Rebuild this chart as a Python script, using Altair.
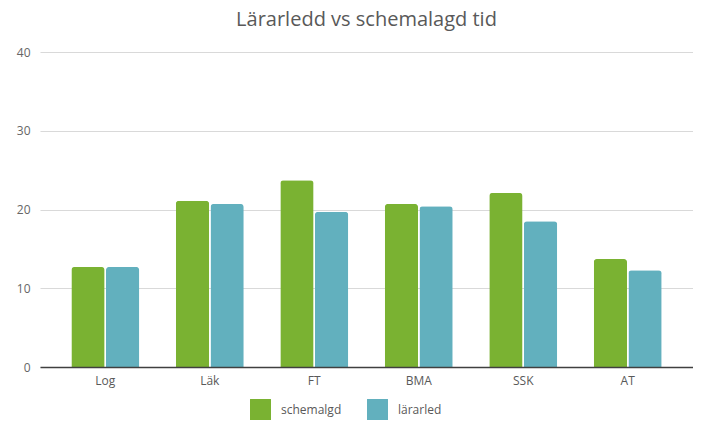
import altair as alt
import pandas as pd

categories = ["Log", "Läk", "FT", "BMA", "SSK", "AT"]
schemalgd = [12.7, 21.1, 23.7, 20.7, 22.1, 13.7]
lararled = [12.7, 20.7, 19.7, 20.4, 18.5, 12.3]
series = ["schemalgd", "lärarled"]
colors = ["#7AB232", "#62B0BE"]

rows = []
for c, a, b in zip(categories, schemalgd, lararled):
    rows.append({"kat": c, "serie": series[0], "v": a})
    rows.append({"kat": c, "serie": series[1], "v": b})
df = pd.DataFrame(rows)

font = "Open Sans"

chart = alt.Chart(df).mark_bar(
    cornerRadiusTopLeft=3, cornerRadiusTopRight=3
).encode(
    x=alt.X("kat:N", sort=categories, title=None,
            scale=alt.Scale(paddingInner=0.35, paddingOuter=0.30),
            axis=alt.Axis(labelAngle=0, ticks=False, domainColor="#404040",
                          domainWidth=1.5, labelColor="#595959", labelFontSize=12,
                          labelFont=font, labelPadding=8, zindex=1)),
    xOffset=alt.XOffset("serie:N", sort=series, scale=alt.Scale(paddingInner=0.04)),
    y=alt.Y("v:Q", title=None,
            scale=alt.Scale(domain=[0, 40]),
            axis=alt.Axis(values=[0, 10, 20, 30, 40], domain=False, ticks=False,
                          gridColor="#D9D9D9", gridWidth=1.2, labelColor="#666666",
                          labelFontSize=12, labelFont=font, labelPadding=10)),
    color=alt.Color("serie:N", sort=series,
                    scale=alt.Scale(domain=series, range=colors),
                    legend=alt.Legend(title=None, orient="none", direction="horizontal",
                                      legendX=210, legendY=347, symbolType="square",
                                      symbolSize=440, symbolStrokeWidth=0,
                                      labelFontSize=12, labelColor="#595959",
                                      labelFont=font, labelOffset=10, columnPadding=25)),
).properties(
    width=653, height=315,
    title=alt.TitleParams("Lärarledd vs schemalagd tid", fontSize=20, font=font,
                          fontWeight="normal", color="#595959", offset=16,
                          anchor="middle"),
    autosize=alt.AutoSizeParams(type="none"),
    padding={"left": 32, "top": 44, "right": 0, "bottom": 55},
).configure_view(stroke=None)

chart.save("out.html", embed_options={"renderer": "svg", "actions": False})
